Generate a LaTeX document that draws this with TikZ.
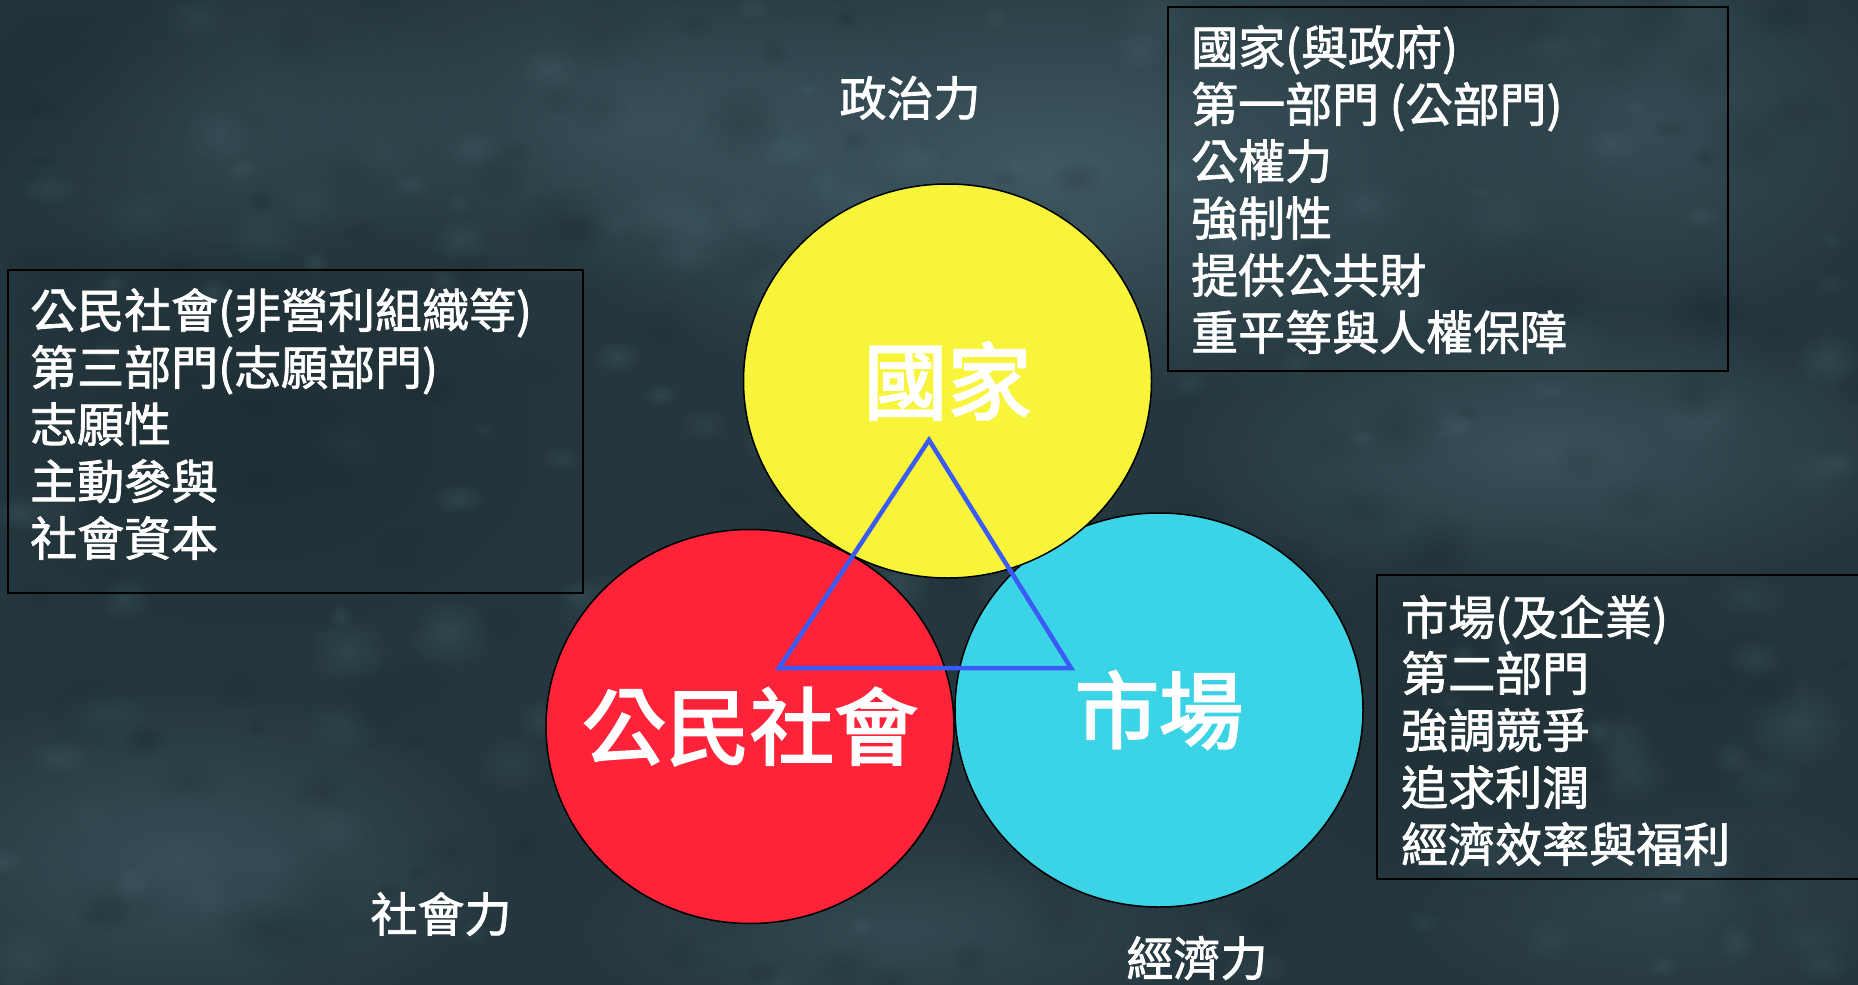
\documentclass[tikz,border=0pt]{standalone}
\usepackage{fontspec}
\setmainfont{Noto Sans CJK TC}
\newcommand\thicktext[2]{\special{pdf:code #1 w 2 Tr}#2\special{pdf:code 0 Tr}}
\usetikzlibrary{fadings,shapes.geometric}
\definecolor{bgbase}{HTML}{25373E}
\definecolor{bglight}{HTML}{4E6B75}
\definecolor{bgdark}{HTML}{16242A}
\definecolor{cyel}{HTML}{F7F43A}
\definecolor{cred}{HTML}{FE2339}
\definecolor{ccyan}{HTML}{3BD3E6}
\definecolor{cblue}{HTML}{3B5BF7}
\tikzfading[name=softblob, inner color=transparent!0, outer color=transparent!100]
\tikzset{
  boxframe/.style={draw=black, line width=2pt},
  boxtext/.style={anchor=base west, inner sep=0pt, text=white, font=\fontsize{47}{57}\selectfont},
  forcelabel/.style={anchor=center, inner sep=0pt, text=white, font=\fontsize{47}{57}\selectfont},
  sector/.style={ellipse, draw=black, line width=1.5pt, inner sep=0pt, outer sep=0pt,
    minimum width=408pt, minimum height=394pt},
  bigtext/.style={anchor=center, inner sep=0pt, text=white, font=\fontsize{84}{90}\selectfont},
  blob/.style={path fading=softblob},
  triline/.style={draw=cblue, line width=4.5pt, line join=miter}
}
\begin{document}
\begin{tikzpicture}[x=1pt,y=-1pt]
\useasboundingbox (0,0) rectangle (1858,985);
% background
\fill[bgbase] (0,0) rectangle (1858,985);
\fill[bglight, opacity=0.65, blob] (1050,170) ellipse [x radius=540, y radius=240];
\fill[bglight, opacity=0.40, blob] (620,120) ellipse [x radius=330, y radius=170];
\fill[bglight, opacity=0.50, blob] (1550,450) ellipse [x radius=380, y radius=150];
\fill[bglight, opacity=0.40, blob] (1650,130) ellipse [x radius=260, y radius=200];
\fill[bglight, opacity=0.45, blob] (180,860) ellipse [x radius=330, y radius=170];
\fill[bglight, opacity=0.35, blob] (900,930) ellipse [x radius=330, y radius=110];
\fill[bglight, opacity=0.30, blob] (250,130) ellipse [x radius=260, y radius=150];
\fill[bglight, opacity=0.25, blob] (1650,900) ellipse [x radius=260, y radius=120];
\fill[bgdark, opacity=0.45, blob] (260,440) ellipse [x radius=320, y radius=220];
\fill[bgdark, opacity=0.35, blob] (1500,720) ellipse [x radius=300, y radius=200];
\fill[bgdark, opacity=0.30, blob] (60,60) ellipse [x radius=200, y radius=150];
\pgfmathsetseed{11}
\foreach \i in {1,...,300}{
  \pgfmathsetmacro{\bx}{rnd*1858}
  \pgfmathsetmacro{\by}{rnd*985}
  \pgfmathsetmacro{\br}{12+rnd*40}
  \pgfmathsetmacro{\bry}{\br*(0.5+rnd*0.5)}
  \pgfmathsetmacro{\bo}{0.12+rnd*0.18}
  \ifodd\i
    \fill[bglight, opacity=\bo, blob] (\bx,\by) ellipse [x radius=\br, y radius=\bry];
  \else
    \fill[bgdark, opacity=\bo, blob] (\bx,\by) ellipse [x radius=\br, y radius=\bry];
  \fi
}
% circles
\node[sector, fill=cred] (civil) at (750,726.5) {};
\node[sector, fill=ccyan] (market) at (1159,710) {};
\node[sector, fill=cyel] (state) at (947.5,381) {};
\node[bigtext] (civiltext) at (civil.center) {\thicktext{2.2}{公民社會}};
\node[bigtext] (markettext) at (market.center) {\thicktext{2.2}{市場}};
\node[bigtext] (statetext) at (state.center) {\thicktext{2.2}{國家}};
% triangle
\coordinate (ta) at (929,440);
\coordinate (tb) at (779,668);
\coordinate (tc) at (1071,668);
\draw[triline] (ta) -- (tb) -- (tc) -- cycle;
% boxes
\draw[boxframe] (1168,7) rectangle (1728,371);
\draw[boxframe] (8,270) rectangle (583,593);
\draw[boxframe] (1377,575) rectangle (1862,879);
% top-right box text
\node[boxtext] (s1) at (1191,65) {\thicktext{0.8}{國家(與政府)}};
\node[boxtext] (s2) at (1191,122) {\thicktext{0.8}{第一部門 (公部門)}};
\node[boxtext] (s3) at (1191,179) {\thicktext{0.8}{公權力}};
\node[boxtext] (s4) at (1191,236) {\thicktext{0.8}{強制性}};
\node[boxtext] (s5) at (1191,293) {\thicktext{0.8}{提供公共財}};
\node[boxtext] (s6) at (1191,350) {\thicktext{0.8}{重平等與人權保障}};
% left box text
\node[boxtext] (c1) at (30,328) {\thicktext{0.8}{公民社會(非營利組織等)}};
\node[boxtext] (c2) at (30,385) {\thicktext{0.8}{第三部門(志願部門)}};
\node[boxtext] (c3) at (30,442) {\thicktext{0.8}{志願性}};
\node[boxtext] (c4) at (30,499) {\thicktext{0.8}{主動參與}};
\node[boxtext] (c5) at (30,556) {\thicktext{0.8}{社會資本}};
% right box text
\node[boxtext] (m1) at (1401,635) {\thicktext{0.8}{市場(及企業)}};
\node[boxtext] (m2) at (1401,691) {\thicktext{0.8}{第二部門}};
\node[boxtext] (m3) at (1401,748) {\thicktext{0.8}{強調競爭}};
\node[boxtext] (m4) at (1401,805) {\thicktext{0.8}{追求利潤}};
\node[boxtext] (m5) at (1401,862) {\thicktext{0.8}{經濟效率與福利}};
% force labels
\node[forcelabel] (polforce) at (910,98) {\thicktext{0.8}{政治力}};
\node[forcelabel] (socforce) at (441,914) {\thicktext{0.8}{社會力}};
\node[forcelabel] (ecoforce) at (1197,958) {\thicktext{0.8}{經濟力}};
\end{tikzpicture}
\end{document}
